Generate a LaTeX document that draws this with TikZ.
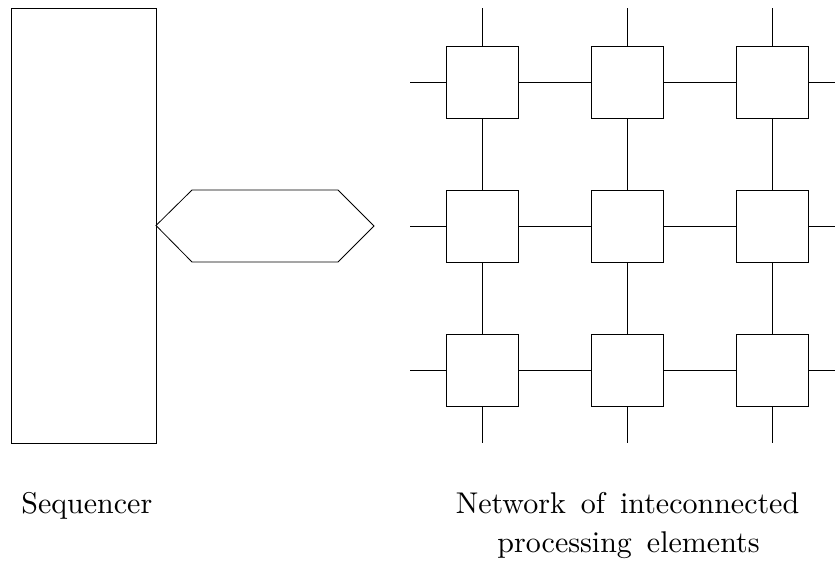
\documentclass[tikz,border=0pt]{standalone}
\usepackage{fontspec}
\newfontfamily\lmten{lmroman10-regular}[Extension=.otf]
\newcommand\lblfont{\lmten\fontsize{22.5}{28.5}\selectfont\spaceskip=0.5em\relax}
\begin{document}
\begin{tikzpicture}[x=0.75pt,y=-0.75pt,line width=0.6pt,
  pe/.style={draw,minimum size=54pt,inner sep=0pt,outer sep=0pt},
  lbl/.style={inner sep=0pt}]
\useasboundingbox (0,0) rectangle (835,568);
% sequencer
\node[draw,minimum width=108.75pt,minimum height=326.25pt,inner sep=0pt,outer sep=0pt,anchor=north west] (seq) at (11,8) {};
% hexagonal bus
\coordinate (h1) at (192,190);
\coordinate (h2) at (338,190);
\coordinate (h3) at (374,226);
\coordinate (h4) at (338,262);
\coordinate (h5) at (192,262);
\draw (seq.east) -- (h1) -- (h2) -- (h3) -- (h4) -- (h5) -- cycle;
% grid of processing elements
\foreach \i/\x in {1/482,2/627,3/772}{
  \foreach \j/\y in {1/82,2/226,3/370}{
    \node[pe] (p\i\j) at (\x,\y) {};
  }
  \coordinate (t\i) at (\x,8);
  \coordinate (b\i) at (\x,443);
}
\foreach \j/\y in {1/82,2/226,3/370}{
  \coordinate (l\j) at (410,\y);
  \coordinate (r\j) at (835,\y);
}
\foreach \i in {1,2,3}{
  \draw (t\i) -- (p\i1);
  \draw (p\i1) -- (p\i2);
  \draw (p\i2) -- (p\i3);
  \draw (p\i3) -- (b\i);
}
\foreach \j in {1,2,3}{
  \draw (l\j) -- (p1\j);
  \draw (p1\j) -- (p2\j);
  \draw (p2\j) -- (p3\j);
  \draw (p3\j) -- (r\j);
}
% labels
\node[lbl,anchor=base west] (seqlabel) at (21,513) {\lblfont Sequencer};
\node[lbl,anchor=base] (netlabel1) at (627.5,513) {\lblfont Network of inteconnected};
\node[lbl,anchor=base] (netlabel2) at (628.5,552) {\lblfont processing elements};
\end{tikzpicture}
\end{document}
